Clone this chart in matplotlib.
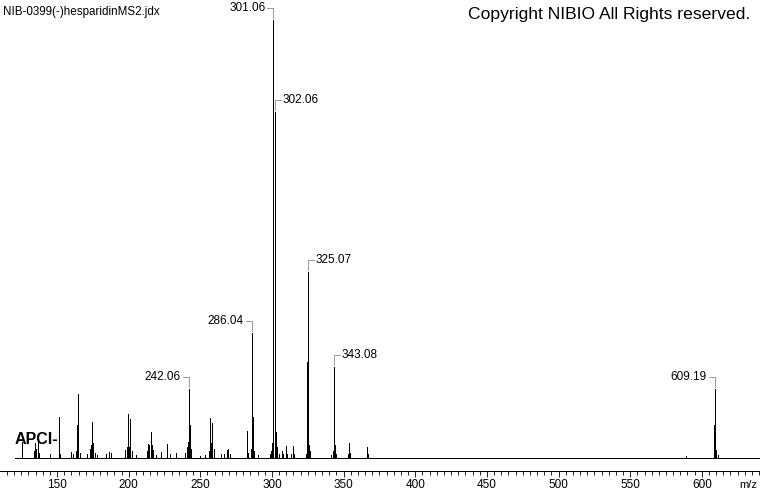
import matplotlib
matplotlib.use("Agg")
import matplotlib.pyplot as plt
from matplotlib.ticker import MultipleLocator
from matplotlib.lines import Line2D
from matplotlib.transforms import IdentityTransform

# spectrum sticks (m/z, relative intensity %)
mz = [125.6, 133.8, 134.6, 135.3, 136.7, 137.5, 145.0, 151.6, 152.4,
      159.5, 161.0, 163.2, 164.2, 164.9, 165.8, 171.0, 173.2, 174.0,
      174.6, 175.4, 176.5, 178.2, 184.5, 186.5, 188.0, 197.5, 198.5,
      199.3, 200.2, 201.2, 202.3, 205.0, 212.5, 213.7, 214.5, 215.4,
      216.2, 217.3, 219.0, 222.3, 227.0, 229.0, 232.8, 239.5, 240.5,
      241.3, 242.06, 242.9, 243.8, 250.0, 253.0, 255.8, 256.5, 257.0,
      257.7, 258.4, 259.3, 264.5, 266.5, 268.4, 269.5, 270.5, 282.8,
      283.6, 285.2, 286.04, 286.8, 287.6, 290.5, 298.5, 299.5, 300.3,
      300.6, 301.06, 302.06, 302.8, 303.5, 305.0, 306.8, 308.0, 309.8,
      310.6, 313.0, 314.9, 315.7, 323.5, 324.4, 325.07, 325.9, 326.8,
      341.0, 342.3, 343.08, 343.9, 344.8, 353.2, 354.0, 354.8, 366.3,
      367.0, 589.0, 608.5, 608.8, 609.19, 610.2, 611.0]
intensity = [3.7, 1.5, 3.4, 2.0, 3.7, 1.2, 0.8, 9.4, 1.0,
             1.3, 1.0, 1.5, 7.5, 14.6, 1.2, 0.8, 2.0, 3.0,
             8.3, 3.5, 1.2, 0.7, 1.0, 1.4, 1.2, 1.8, 2.5,
             10.0, 2.5, 8.9, 1.5, 0.7, 1.5, 3.3, 3.0, 5.9,
             3.0, 1.8, 0.6, 1.4, 3.2, 0.8, 1.2, 1.2, 2.5,
             3.7, 15.8, 7.5, 2.0, 0.5, 0.6, 1.5, 3.0, 9.1,
             3.5, 8.0, 2.0, 0.8, 1.0, 1.8, 2.0, 0.8, 6.2,
             1.2, 2.0, 28.5, 9.4, 1.5, 0.6, 0.8, 1.5, 3.5,
             60.0, 100.0, 79.0, 6.0, 2.5, 0.8, 1.5, 0.8, 2.7,
             1.0, 0.8, 2.7, 1.0, 1.0, 22.0, 42.5, 3.0, 1.5,
             0.6, 1.5, 20.8, 3.0, 1.0, 1.0, 3.5, 1.2, 2.5,
             0.8, 0.4, 1.0, 7.5, 15.8, 1.8, 0.6]

# labelled peaks and which side the label sits on
label_mz = [301.06, 302.06, 325.07, 286.04, 343.08, 242.06, 609.19]
label_int = [100.0, 79.0, 42.5, 28.5, 20.8, 15.8, 15.8]
label_side = ["left", "right", "right", "left", "right", "left", "left"]

baseline_range = (120.7, 640.5)
xticks = list(range(150, 601, 50))

W, H = 760, 492
fig = plt.figure(figsize=(W / 100, H / 100), dpi=100)
fig.patch.set_facecolor("white")
plt.rcParams["font.family"] = ["Liberation Sans", "DejaVu Sans"]

ax = fig.add_axes([0, 21.3 / H, 1, 1 - 21.3 / H])
ax.set_xlim(110.2, 640.6)
ax.set_ylim(-2.9, 104.57)

ax.hlines(0, baseline_range[0], baseline_range[1], color="black", lw=0.5, antialiased=False)
ax.vlines(mz, 0, intensity, color="black", lw=0.5, antialiased=False)

for s in ["left", "right", "top"]:
    ax.spines[s].set_visible(False)
ax.spines["bottom"].set_linewidth(0.5)
ax.spines["bottom"].set_antialiased(False)
ax.set_yticks([])
ax.set_xticks(xticks)
ax.xaxis.set_minor_locator(MultipleLocator(5))
ax.tick_params(axis="x", which="major", direction="out", length=4.5, width=0.6,
               labelsize=8.5, pad=1.5)
ax.tick_params(axis="x", which="minor", direction="out", length=2.6, width=0.6)

# peak labels with grey brackets (drawn in pixel space)
ident = IdentityTransform()
for m, h, side in zip(label_mz, label_int, label_side):
    x0, y0 = ax.transData.transform((m, h))
    ytop = y0 + 12
    sgn = -1 if side == "left" else 1
    fig.add_artist(Line2D([x0, x0, x0 + sgn * 6], [y0 + 2, ytop, ytop],
                          color="#888888", lw=0.6, transform=ident))
    fig.text(x0 + sgn * 8, ytop, f"{m:.2f}", ha="right" if side == "left" else "left",
             va="center", fontsize=8.5, transform=ident)

fig.text(3, H - 12, "NIB-0399(-)hesparidinMS2.jdx", ha="left", va="center",
         fontsize=8.4, transform=ident)
fig.text(750, H - 14, "Copyright NIBIO All Rights reserved.", ha="right", va="center",
         fontsize=12.6, transform=ident)
fig.text(15, H - 440, "APCI-", ha="left", va="center", fontsize=11.5,
         fontweight="bold", transform=ident)
fig.text(748, H - 485, "m/z", ha="center", va="center", fontsize=8, transform=ident)

fig.savefig("out.png", dpi=100, facecolor="white")
